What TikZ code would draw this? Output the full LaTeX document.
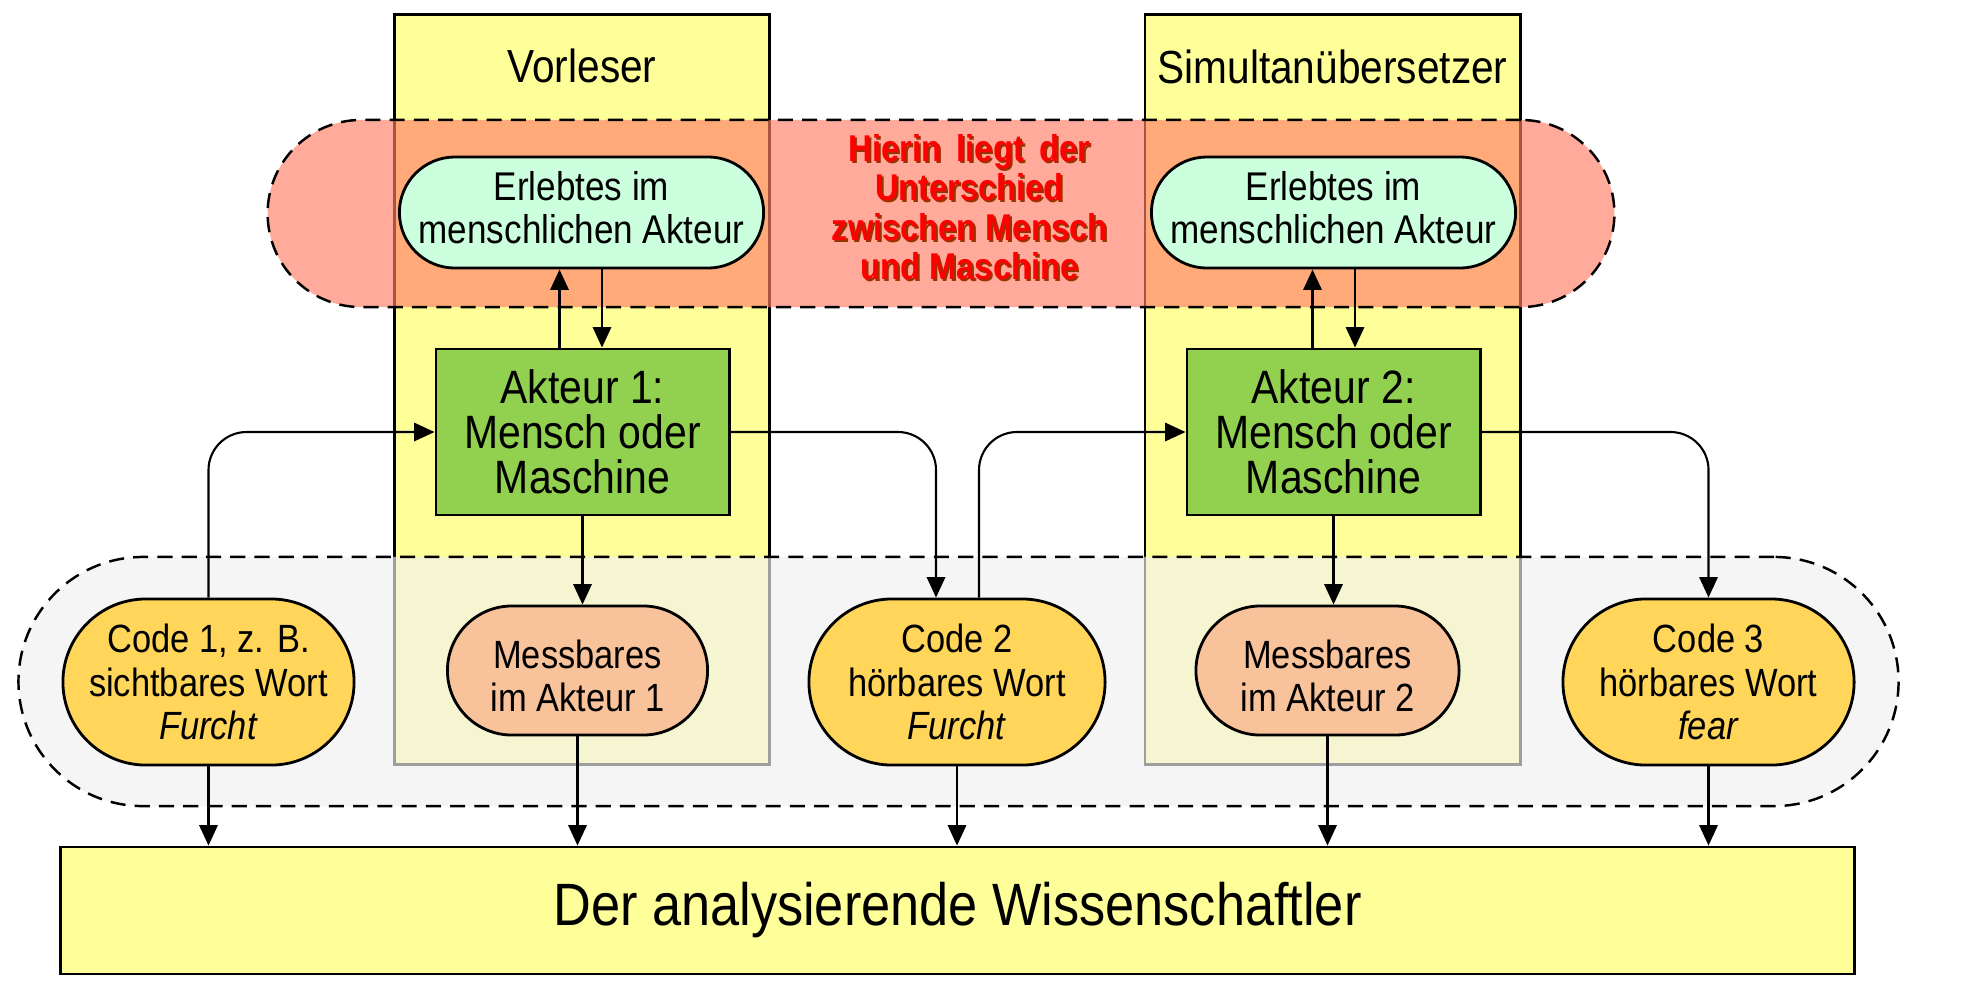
\documentclass[tikz,border=0pt]{standalone}
\usepackage{fontspec}
\setmainfont{Liberation Sans}[FakeStretch=0.875]
\usetikzlibrary{arrows.meta,calc}
\definecolor{colyel}{HTML}{FFFF99}
\definecolor{redfill}{RGB}{255,126,103}
\definecolor{grayfill}{RGB}{240,240,240}
\definecolor{mint}{HTML}{CCFFDD}
\definecolor{akgreen}{HTML}{92D050}
\definecolor{codeyel}{HTML}{FFD55A}
\definecolor{peach}{HTML}{F8C29B}
\definecolor{shadowred}{HTML}{993300}
\tikzset{
  colbox/.style={draw=black, line width=0.8pt, fill=colyel, inner sep=0pt},
  region/.style={draw=black, dash pattern=on 4.3pt off 2.6pt, line width=0.7pt, fill opacity=0.66, inner sep=0pt},
  boxnode/.style={draw=black, line width=0.8pt, align=center, inner sep=0pt},
  erl/.style={boxnode, fill=mint, minimum width=3.64cm, minimum height=1.11cm, rounded corners=0.555cm,
    font=\fontsize{11.4}{12.3}\selectfont},
  akt/.style={boxnode, fill=akgreen, minimum width=2.93cm, minimum height=1.66cm,
    font=\fontsize{13.3}{12.8}\selectfont},
  codenode/.style={boxnode, fill=codeyel, minimum width=2.91cm, minimum height=1.66cm, rounded corners=0.83cm,
    font=\fontsize{11.2}{12.3}\selectfont},
  mess/.style={boxnode, fill=peach, minimum width=2.6cm, minimum height=1.29cm, rounded corners=0.645cm,
    font=\fontsize{11.2}{12.3}\selectfont},
  arr/.style={draw=black, line width=0.6pt, -{Triangle[length=5.8pt,width=5.2pt]}},
  redtext/.style={align=center, font=\bfseries\fontsize{10.6}{11.2}\selectfont, inner sep=0pt}
}
\newcommand{\shiftup}[3]{\raisebox{#1}[\height][\depth]{\parbox{#2}{\centering #3}}}
\begin{document}
\begin{tikzpicture}[x=0.01cm,y=-0.01cm]
\useasboundingbox (0,0) rectangle (1980,987);
% columns
\node[colbox, minimum width=3.74cm, minimum height=7.49cm] (col1) at (582,389.5) {};
\node[colbox, minimum width=3.75cm, minimum height=7.49cm] (col2) at (1332.5,389.5) {};
\node[font=\fontsize{13.2}{14}\selectfont] (lbl1) at (582,66) {Vorleser};
\node[font=\fontsize{13.2}{14}\selectfont] (lbl2) at (1332.5,67) {Simultanübersetzer};
% regions
\node[region, fill=redfill, minimum width=13.46cm, minimum height=1.87cm, rounded corners=0.935cm] (redreg) at (941,213.5) {};
\node[region, fill=grayfill, minimum width=18.79cm, minimum height=2.49cm, rounded corners=1.245cm] (grayreg) at (958.5,681.5) {};
% red text
\node[redtext, text=shadowred] (rtshadow) at (971.5,209) {Hierin\hspace{4.5pt}liegt\hspace{4.5pt}der\\Unterschied\\zwischen Mensch\\und Maschine};
\node[redtext, text=red] (rt) at (969.5,207) {Hierin\hspace{4.5pt}liegt\hspace{4.5pt}der\\Unterschied\\zwischen Mensch\\und Maschine};
% nodes
\node[erl] (erl1) at (581.5,212.5) {\shiftup{1.4pt}{3.4cm}{Erlebtes im\\menschlichen Akteur}};
\node[erl] (erl2) at (1333.5,212.5) {\shiftup{1.4pt}{3.4cm}{Erlebtes im\\menschlichen Akteur}};
\node[akt] (akt1) at (582.5,432) {Akteur 1:\\Mensch oder\\Maschine};
\node[akt] (akt2) at (1333.5,432) {Akteur 2:\\Mensch oder\\Maschine};
\node[codenode] (code1) at (208.5,682) {Code 1, z. B.\\sichtbares Wort\\\textit{Furcht}};
\node[codenode, minimum width=2.96cm] (code2) at (957,682) {Code 2\\hörbares Wort\\\textit{Furcht}};
\node[codenode] (code3) at (1708.5,682) {Code 3\\hörbares Wort\\\textit{fear}};
\node[mess] (mess1) at (577.5,670.5) {\shiftup{-1.5pt}{2.3cm}{Messbares\\im Akteur 1}};
\node[mess, minimum width=2.63cm] (mess2) at (1327.5,670.5) {\shiftup{-1.5pt}{2.3cm}{Messbares\\im Akteur 2}};
\node[boxnode, fill=colyel, minimum width=17.93cm, minimum height=1.27cm, font=\fontsize{17}{19}\selectfont] (wiss) at (957.5,910.5) {Der analysierende Wissenschaftler};
% connectors between Akteur and Erlebtes
\draw[arr] ($(akt1.north)+(-23,0)$) -- ($(erl1.south)+(-22,0)$);
\draw[arr] ($(erl1.south)+(20.5,0)$) -- ($(akt1.north)+(19.5,0)$);
\draw[arr] ($(akt2.north)+(-21,0)$) -- ($(erl2.south)+(-21,0)$);
\draw[arr] ($(erl2.south)+(21.5,0)$) -- ($(akt2.north)+(21.5,0)$);
% flow connectors
\draw[arr, rounded corners=0.38cm] (code1.north) |- (akt1.west);
\draw[arr, rounded corners=0.38cm] (akt1.east) -| ($(code2.north)+(-21,0)$);
\draw[arr, rounded corners=0.38cm] ($(code2.north)+(22,0)$) |- (akt2.west);
\draw[arr, rounded corners=0.38cm] (akt2.east) -| (code3.north);
\draw[arr] (akt1.south) -- (akt1.south |- mess1.north);
\draw[arr] (akt2.south) -- (akt2.south |- mess2.north);
% to the scientist
\draw[arr] (code1.south) -- (code1.south |- wiss.north);
\draw[arr] (mess1.south) -- (mess1.south |- wiss.north);
\draw[arr] (code2.south) -- (code2.south |- wiss.north);
\draw[arr] (mess2.south) -- (mess2.south |- wiss.north);
\draw[arr] (code3.south) -- (code3.south |- wiss.north);
\end{tikzpicture}
\end{document}
